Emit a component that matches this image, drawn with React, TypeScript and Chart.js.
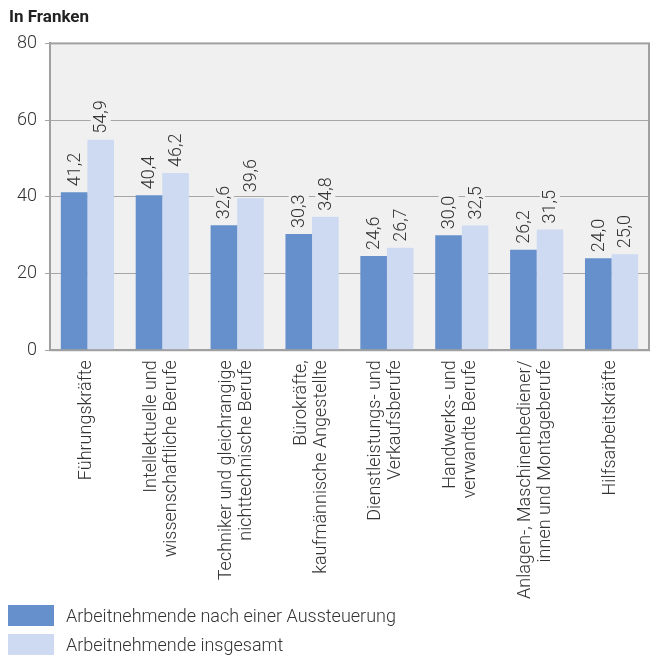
import { useEffect, useRef } from "react";
import { Chart, registerables } from "chart.js";
Chart.register(...registerables);

const categories: string[][] = [
  ["Führungskräfte"],
  ["Intellektuelle und", "wissenschaftliche Berufe"],
  ["Techniker und gleichrangige", "nichttechnische Berufe"],
  ["Bürokräfte,", "kaufmännische Angestellte"],
  ["Dienstleistungs- und", "Verkaufsberufe"],
  ["Handwerks- und", "verwandte Berufe"],
  ["Anlagen-, Maschinenbediener/", "innen und Montageberufe"],
  ["Hilfsarbeitskräfte"],
];
const afterExhaustion = [41.2, 40.4, 32.6, 30.3, 24.6, 30.0, 26.2, 24.0];
const allEmployees = [54.9, 46.2, 39.6, 34.8, 26.7, 32.5, 31.5, 25.0];
const seriesNames = ["Arbeitnehmende nach einer Aussteuerung", "Arbeitnehmende insgesamt"];
const seriesColors = ["#6690CC", "#CDDAF2"];
const titleText = "In Franken";
const yMin = 0;
const yMax = 80;
const yStep = 20;

const FONT = "Roboto";
const PLOT_BG = "#F0F0F0";
const TEXT = "#333333";
const LABEL_SIZE = 18;
const LABEL_LH = 20;
const LIGHT = 300;

const plotBackground = {
  id: "plotBackground",
  beforeDraw(chart: any) {
    const { ctx, chartArea } = chart;
    ctx.save();
    ctx.fillStyle = PLOT_BG;
    ctx.fillRect(chartArea.left, chartArea.top, chartArea.right - chartArea.left, chartArea.bottom - chartArea.top);
    ctx.restore();
  },
  afterDraw(chart: any) {
    const { ctx, chartArea } = chart;
    ctx.save();
    ctx.strokeStyle = "#A0A0A0";
    ctx.lineWidth = 2;
    ctx.strokeRect(chartArea.left, chartArea.top, chartArea.right - chartArea.left, chartArea.bottom - chartArea.top);
    ctx.restore();
  },
};

// Draws the category labels centred on each tick (Chart.js stacks rotated multi-line labels off-centre)
const categoryLabels = {
  id: "categoryLabels",
  afterDraw(chart: any) {
    const ctx = chart.ctx;
    const xScale = chart.scales.x;
    const labels = chart.data.labels as string[][];
    ctx.save();
    ctx.font = `${LIGHT} ${LABEL_SIZE}px ${FONT}`;
    ctx.fillStyle = TEXT;
    ctx.textAlign = "right";
    ctx.textBaseline = "middle";
    labels.forEach((lines, i) => {
      const px = xScale.getPixelForTick(i);
      const n = lines.length;
      lines.forEach((line, j) => {
        const x = px + (j - (n - 1) / 2) * LABEL_LH - 1;
        ctx.save();
        ctx.translate(x, xScale.top + 10);
        ctx.rotate(-Math.PI / 2);
        ctx.fillText(line, 0, 0);
        ctx.restore();
      });
    });
    ctx.restore();
  },
};

const valueLabels = {
  id: "valueLabels",
  afterDatasetsDraw(chart: any) {
    const ctx = chart.ctx;
    ctx.save();
    ctx.font = `${LIGHT} ${LABEL_SIZE}px ${FONT}`;
    chart.data.datasets.forEach((ds: any, di: number) => {
      const meta = chart.getDatasetMeta(di);
      meta.data.forEach((bar: any, i: number) => {
        const v = ds.data[i] as number;
        const text = v.toFixed(1).replace(".", ",");
        const w = ctx.measureText(text).width;
        ctx.save();
        ctx.translate(bar.x, bar.y - 6);
        ctx.rotate(-Math.PI / 2);
        ctx.fillStyle = PLOT_BG;
        ctx.fillRect(-2, -10, w + 4, 20);
        ctx.fillStyle = TEXT;
        ctx.textAlign = "left";
        ctx.textBaseline = "middle";
        ctx.fillText(text, 0, 1);
        ctx.restore();
      });
    });
    ctx.restore();
  },
};

export default function App() {
  const ref = useRef<HTMLCanvasElement | null>(null);
  useEffect(() => {
    document.body.style.margin = "0";
    if (!ref.current) return;
    const chart = new Chart(ref.current, {
      type: "bar",
      data: {
        labels: categories,
        datasets: [
          {
            label: seriesNames[0],
            data: afterExhaustion,
            backgroundColor: seriesColors[0],
            barPercentage: 1.0,
            categoryPercentage: 0.71,
          },
          {
            label: seriesNames[1],
            data: allEmployees,
            backgroundColor: seriesColors[1],
            barPercentage: 1.0,
            categoryPercentage: 0.71,
          },
        ],
      },
      options: {
        responsive: false,
        animation: false,
        devicePixelRatio: 1,
        layout: { padding: { left: 9, right: 5, top: 4, bottom: 0 } },
        plugins: {
          title: {
            display: true,
            text: titleText,
            align: "start",
            color: "#222222",
            font: { family: FONT, size: 17, weight: "bold" },
            padding: { top: 4, bottom: 15 },
          },
          legend: { display: false },
          tooltip: { enabled: false },
        },
        scales: {
          x: {
            grid: { display: false },
            border: { display: true, color: "#A0A0A0", width: 2 },
            ticks: {
              autoSkip: false,
              minRotation: 90,
              maxRotation: 90,
              color: "rgba(0,0,0,0)",
              padding: 8,
              font: { family: FONT, size: LABEL_SIZE, weight: LIGHT },
            },
          },
          y: {
            min: yMin,
            max: yMax,
            ticks: {
              stepSize: yStep,
              color: TEXT,
              padding: 8,
              font: { family: FONT, size: LABEL_SIZE, weight: LIGHT },
            },
            grid: { color: "#A6A6A6", lineWidth: 1, tickLength: 5 },
            border: { display: true, color: "#A0A0A0", width: 2 },
          },
        },
      },
      plugins: [plotBackground, valueLabels, categoryLabels],
    });
    return () => chart.destroy();
  }, []);
  return (
    <div style={{ width: 654, height: 655, position: "relative", fontFamily: FONT }}>
      <canvas ref={ref} width={654} height={613} style={{ display: "block" }} />
      {seriesNames.map((name, i) => (
        <div
          key={name}
          style={{
            position: "absolute",
            left: 8,
            top: 605 + i * 29,
            height: 21,
            display: "flex",
            alignItems: "center",
            fontSize: LABEL_SIZE,
            fontWeight: LIGHT,
            color: TEXT,
            whiteSpace: "nowrap",
          }}
        >
          <span style={{ display: "inline-block", width: 46, height: 21, background: seriesColors[i], marginRight: 12 }} />
          {name}
        </div>
      ))}
    </div>
  );
}
